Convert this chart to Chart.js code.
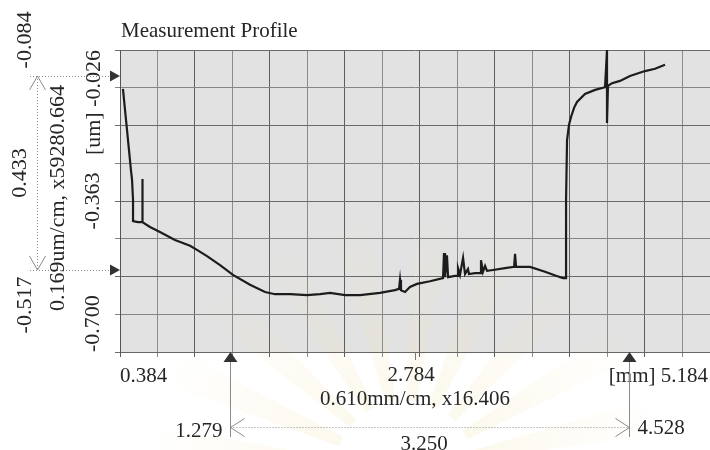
<!DOCTYPE html>
<html lang="en">
<head>
    <meta charset="UTF-8">
    <title>Measurement Profile</title>
    <script src="https://cdn.jsdelivr.net/npm/chart.js"></script>
    <style>
        html, body {
            margin: 0;
            padding: 0;
            background: #ffffff;
        }
        #profile {
            display: block;
        }
    </style>
</head>
<body>
    <canvas id="profile" width="710" height="450"></canvas>
    <script>
        // profile trace: position [mm] and height [um]
        const profileX = [0.408, 0.433, 0.457, 0.473, 0.482, 0.490, 0.490, 0.530, 0.563, 0.563, 0.571, 0.628, 0.709, 0.831, 0.954,
            1.010, 1.092, 1.198, 1.303, 1.442, 1.564, 1.645, 1.767, 1.905, 2.011, 2.093, 2.215, 2.337, 2.499, 2.621,
            2.654, 2.662, 2.670, 2.703, 2.743, 2.800, 2.906, 3.012, 3.020, 3.028, 3.044, 3.053, 3.110, 3.134, 3.134,
            3.150, 3.175, 3.191, 3.215, 3.223, 3.272, 3.321, 3.321, 3.337, 3.354, 3.370, 3.419, 3.516, 3.590, 3.598,
            3.606, 3.720, 3.842, 3.931, 3.988, 4.013, 4.013, 4.021, 4.037, 4.053, 4.078, 4.102, 4.167, 4.249, 4.330,
            4.346, 4.346, 4.354, 4.387, 4.452, 4.533, 4.655, 4.737, 4.818];
        const profileY = [-0.113, -0.182, -0.249, -0.294, -0.316, -0.361, -0.408, -0.410, -0.410, -0.314, -0.410, -0.421, -0.432, -0.450, -0.463,
            -0.472, -0.486, -0.506, -0.528, -0.550, -0.566, -0.571, -0.571, -0.573, -0.571, -0.568, -0.573, -0.573, -0.568, -0.562,
            -0.559, -0.539, -0.562, -0.566, -0.555, -0.548, -0.542, -0.535, -0.479, -0.533, -0.484, -0.533, -0.530, -0.530, -0.513,
            -0.528, -0.490, -0.526, -0.515, -0.526, -0.524, -0.524, -0.495, -0.521, -0.508, -0.519, -0.517, -0.513, -0.510, -0.481,
            -0.510, -0.510, -0.521, -0.530, -0.535, -0.535, -0.361, -0.227, -0.193, -0.176, -0.155, -0.142, -0.124, -0.115, -0.109,
            -0.026, -0.189, -0.106, -0.100, -0.095, -0.084, -0.073, -0.068, -0.059];

        // axis ranges and labels
        const xMin = 0.384, xMid = 2.784, xMax = 5.184;
        const yTop = -0.026, yMid = -0.363, yBottom = -0.700;
        const xGridStep = 0.305;   // 0.610 mm/cm, two lines per cm
        const yGridCount = 8;

        // cursor readouts
        const xCursors = [1.279, 4.528];
        const xCursorSpan = '3.250';
        const yCursors = [-0.084, -0.517];
        const yCursorSpan = '0.433';
        const xScaleText = '0.610mm/cm, x16.406';
        const yScaleText = '0.169um/cm, x59280.664';

        const xGrid = [];
        for (let v = xMin; v < xMax - 0.01; v += xGridStep) xGrid.push(+v.toFixed(3));
        const yGrid = [];
        for (let i = 0; i <= yGridCount; i++) yGrid.push(yBottom + i * (yTop - yBottom) / yGridCount);

        const points = profileX.map((x, i) => ({ x: x, y: profileY[i] }));

        const FONT = '"Liberation Serif", "Times New Roman", serif';
        const INK = '#262626';

        function vText(ctx, str, x, y, align) {
            ctx.save();
            ctx.translate(x, y);
            ctx.rotate(-Math.PI / 2);
            ctx.textAlign = align;
            ctx.textBaseline = 'middle';
            ctx.fillText(str, 0, 0);
            ctx.restore();
        }

        function dotted(ctx, x1, y1, x2, y2) {
            ctx.save();
            ctx.strokeStyle = '#8a8a8a';
            ctx.lineWidth = 1;
            ctx.setLineDash([1, 2]);
            ctx.beginPath();
            ctx.moveTo(x1, y1);
            ctx.lineTo(x2, y2);
            ctx.stroke();
            ctx.restore();
        }

        function openArrow(ctx, x, y, dx, dy) {
            // V-shaped head with its point at (x, y), opening towards (dx, dy)
            ctx.save();
            ctx.strokeStyle = '#8a8a8a';
            ctx.lineWidth = 1;
            ctx.beginPath();
            if (dx === 0) {
                ctx.moveTo(x - 8, y + dy);
                ctx.lineTo(x, y);
                ctx.lineTo(x + 8, y + dy);
            } else {
                ctx.moveTo(x + dx, y - 9);
                ctx.lineTo(x, y);
                ctx.lineTo(x + dx, y + 9);
            }
            ctx.stroke();
            ctx.restore();
        }

        // faint paper stamp behind the lower half of the sheet
        function stamp(ctx) {
            const cx = 405, cy = 470;
            ctx.save();
            for (let i = 0; i < 10; i++) {
                const a0 = Math.PI + (i + 0.1) * Math.PI / 10;
                const a1 = a0 + 0.45 * Math.PI / 10;
                const g = ctx.createRadialGradient(cx, cy, 40, cx, cy, 260);
                g.addColorStop(0, 'rgba(242, 228, 180, 0.28)');
                g.addColorStop(1, 'rgba(242, 228, 180, 0)');
                ctx.fillStyle = g;
                ctx.beginPath();
                ctx.moveTo(cx + 70 * Math.cos(a0), cy + 70 * Math.sin(a0));
                ctx.arc(cx, cy, 260, a0, a1);
                ctx.arc(cx, cy, 70, a1, a0, true);
                ctx.closePath();
                ctx.fill();
            }
            ctx.restore();
        }

        const plotBackground = {
            id: 'plotBackground',
            beforeDraw(chart) {
                const { ctx, chartArea: a } = chart;
                ctx.save();
                ctx.fillStyle = '#e2e2e2';
                ctx.fillRect(a.left, a.top, a.right - a.left, a.bottom - a.top);
                ctx.restore();
                stamp(ctx);
            }
        };

        const readouts = {
            id: 'readouts',
            afterDraw(chart) {
                const { ctx, chartArea: a } = chart;
                const xs = chart.scales.x, ys = chart.scales.y;
                ctx.save();
                ctx.fillStyle = INK;
                ctx.font = '21px ' + FONT;

                // title
                ctx.textAlign = 'left';
                ctx.textBaseline = 'alphabetic';
                ctx.fillText('Measurement Profile', a.left + 1, 37);

                // x axis labels
                ctx.fillText(xMin.toFixed(3), a.left, 382);
                ctx.textAlign = 'center';
                ctx.fillText(xMid.toFixed(3), xs.getPixelForValue(xMid) - 4, 381);
                ctx.fillText(xScaleText, xs.getPixelForValue(xMid), 405);
                ctx.textAlign = 'right';
                ctx.fillText('[mm] ' + xMax.toFixed(3), a.right - 2, 382);

                // tick under the middle label
                ctx.strokeStyle = '#777';
                ctx.lineWidth = 1;
                ctx.beginPath();
                ctx.moveTo(Math.round(xs.getPixelForValue(xMid)) + 0.5, a.bottom);
                ctx.lineTo(Math.round(xs.getPixelForValue(xMid)) + 0.5, a.bottom + 8);
                ctx.stroke();

                // y axis labels
                ctx.font = '22px ' + FONT;
                vText(ctx, '[um] ' + yTop.toFixed(3), 94, ys.getPixelForValue(yTop), 'right');
                vText(ctx, yMid.toFixed(3), 93, ys.getPixelForValue(yMid), 'center');
                vText(ctx, yBottom.toFixed(3), 93, ys.getPixelForValue(yBottom), 'left');

                // y cursors
                const c1 = ys.getPixelForValue(yCursors[0]);
                const c2 = ys.getPixelForValue(yCursors[1]);
                dotted(ctx, 30, Math.round(c1) + 0.5, 110, Math.round(c1) + 0.5);
                dotted(ctx, 30, Math.round(c2) + 0.5, 110, Math.round(c2) + 0.5);
                dotted(ctx, 37.5, c1, 37.5, c2);
                openArrow(ctx, 37.5, c1, 0, 14);
                openArrow(ctx, 37.5, c2, 0, -14);
                ctx.fillStyle = '#333';
                [c1, c2].forEach(cy => {
                    ctx.beginPath();
                    ctx.moveTo(a.left, cy);
                    ctx.lineTo(a.left - 10, cy - 5.5);
                    ctx.lineTo(a.left - 10, cy + 5.5);
                    ctx.closePath();
                    ctx.fill();
                });
                ctx.fillStyle = INK;
                vText(ctx, yCursors[0].toFixed(3), 25, 40, 'center');
                vText(ctx, yCursorSpan, 20, (c1 + c2) / 2, 'center');
                vText(ctx, yCursors[1].toFixed(3), 25, 305, 'center');
                vText(ctx, yScaleText, 58, 198, 'center');

                // x cursors
                ctx.font = '21px ' + FONT;
                const p1 = Math.round(xs.getPixelForValue(xCursors[0])) + 0.5;
                const p2 = Math.round(xs.getPixelForValue(xCursors[1])) + 0.5;
                const dimY = 427.5;
                ctx.strokeStyle = '#8a8a8a';
                ctx.lineWidth = 1;
                ctx.beginPath();
                ctx.moveTo(p1, a.bottom + 10);
                ctx.lineTo(p1, 437);
                ctx.moveTo(p2, a.bottom + 10);
                ctx.lineTo(p2, 437);
                ctx.stroke();
                dotted(ctx, p1, dimY, p2, dimY);
                openArrow(ctx, p1, dimY, 14, 0);
                openArrow(ctx, p2, dimY, -14, 0);
                ctx.fillStyle = '#333';
                [p1, p2].forEach(px => {
                    ctx.beginPath();
                    ctx.moveTo(px, a.bottom);
                    ctx.lineTo(px - 7, a.bottom + 10);
                    ctx.lineTo(px + 7, a.bottom + 10);
                    ctx.closePath();
                    ctx.fill();
                });
                ctx.fillStyle = INK;
                ctx.textAlign = 'right';
                ctx.fillText(xCursors[0].toFixed(3), p1 - 8, 437);
                ctx.textAlign = 'left';
                ctx.fillText(xCursors[1].toFixed(3), p2 + 8, 434);
                ctx.textAlign = 'center';
                ctx.fillText(xCursorSpan, (p1 + p2) / 2 - 6, 450);

                ctx.restore();
            }
        };

        new Chart(document.getElementById('profile'), {
            type: 'scatter',
            data: {
                datasets: [{
                    data: points,
                    showLine: true,
                    borderColor: '#1c1c1c',
                    borderWidth: 2.2,
                    pointRadius: 0,
                    tension: 0
                }]
            },
            options: {
                responsive: false,
                animation: false,
                layout: {
                    padding: { left: 112, top: 50, right: 0, bottom: 90 }
                },
                plugins: {
                    legend: { display: false },
                    tooltip: { enabled: false }
                },
                scales: {
                    x: {
                        type: 'linear',
                        min: xMin,
                        max: xMax,
                        afterBuildTicks: axis => { axis.ticks = xGrid.map(v => ({ value: v })); },
                        afterFit: axis => { axis.height = 8; },
                        ticks: { display: false },
                        grid: {
                            color: c => (c.index % 2 === 0 ? '#5e5e5e' : '#8c8c8c'),
                            lineWidth: 1,
                            tickLength: 5
                        },
                        border: { color: '#666', width: 1 }
                    },
                    y: {
                        type: 'linear',
                        min: yBottom,
                        max: yTop,
                        afterBuildTicks: axis => { axis.ticks = yGrid.map(v => ({ value: v })); },
                        afterFit: axis => { axis.width = 8; },
                        ticks: { display: false },
                        grid: {
                            color: c => (c.index % 2 === 0 ? '#6a6a6a' : '#858585'),
                            lineWidth: 1,
                            tickLength: 5
                        },
                        border: { color: '#555', width: 1 }
                    }
                }
            },
            plugins: [plotBackground, readouts]
        });
    </script>
</body>
</html>
